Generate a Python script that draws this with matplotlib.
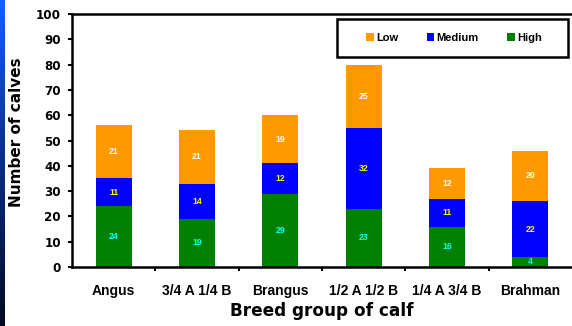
import matplotlib.pyplot as plt
import numpy as np
from matplotlib.colors import LinearSegmentedColormap
from matplotlib.patches import Rectangle

# calves per breed group, stacked High / Medium / Low
breeds = ["Angus", "3/4 A 1/4 B", "Brangus", "1/2 A 1/2 B", "1/4 A 3/4 B", "Brahman"]
high = [24, 19, 29, 23, 16, 4]
medium = [11, 14, 12, 32, 11, 22]
low = [21, 21, 19, 25, 12, 20]

plt.rcParams['font.family'] = ['Liberation Sans', 'DejaVu Sans']
plt.rcParams['font.weight'] = 'bold'
wide = ['DejaVu Sans']

W, H = 572, 326
fig = plt.figure(figsize=(W / 100, H / 100), dpi=100)

# thin blue strip down the left edge
strip = fig.add_axes([0, 0, 5 / W, 1])
grad = np.linspace(0, 1, 256).reshape(-1, 1)
cmap = LinearSegmentedColormap.from_list("strip", ["#1262f5", "#0a2c85", "#020a22"])
strip.imshow(grad, aspect='auto', cmap=cmap)
strip.axis('off')

ax = fig.add_axes([72 / W, 59 / H, 500 / W, 253 / H])
x = np.arange(len(breeds))
w = 0.43
hi = np.array(high)
me = np.array(medium)
lo = np.array(low)
b_hi = ax.bar(x, hi, w, color='#008000', label='High', zorder=2)
b_me = ax.bar(x, me, w, bottom=hi, color='#0000ff', label='Medium', zorder=2)
b_lo = ax.bar(x, lo, w, bottom=hi + me, color='#ff9900', label='Low', zorder=2)

for i in range(len(breeds)):
    ax.text(x[i], hi[i] / 2, str(high[i]), ha='center', va='center', fontsize=6.3, color='#00ffff')
    ax.text(x[i], hi[i] + me[i] / 2, str(medium[i]), ha='center', va='center', fontsize=6.3, color='#ffff00')
    ax.text(x[i], hi[i] + me[i] + lo[i] / 2, str(low[i]), ha='center', va='center', fontsize=6.3, color='white')

ax.set_xlim(-0.5, 5.5)
ax.set_ylim(0, 100)
ax.set_yticks(range(0, 101, 10))
ax.set_yticklabels([str(v) for v in range(0, 101, 10)], fontsize=8.6, fontweight='bold', family=wide)
ax.set_xticks(x)
ax.set_xticklabels(breeds, fontsize=10, fontweight='bold')
ax.set_xticks(np.arange(0.5, 5, 1), minor=True)
ax.tick_params(axis='x', which='major', length=0, pad=12)
ax.tick_params(axis='x', which='minor', length=3, width=1.5, direction='out')
ax.tick_params(axis='y', length=3, width=1.5, direction='out', pad=5)

for s in ['left', 'bottom', 'top']:
    ax.spines[s].set_linewidth(1.8)
ax.spines['right'].set_visible(False)

ax.set_ylabel("Number of calves", fontsize=11, fontweight='bold', family=wide)
ax.yaxis.set_label_coords(-0.096, 0.534)
ax.set_xlabel("Breed group of calf", fontsize=12.2, fontweight='bold', family=wide, labelpad=3)

# legend frame drawn as a separate box
fig.patches.append(Rectangle((337 / W, 1 - 57 / H), 231 / W, 38 / H, transform=fig.transFigure,
                             facecolor='white', edgecolor='black', linewidth=1.8, zorder=5))
leg = fig.legend([b_lo, b_me, b_hi], ['Low', 'Medium', 'High'], ncol=3, loc='center',
                 bbox_to_anchor=(454 / W, 1 - 38 / H), fontsize=8, frameon=False,
                 handlelength=0.65, handleheight=0.65, handletextpad=0.2, columnspacing=2.6,
                 borderpad=0)
leg.set_zorder(6)
for t in leg.get_texts():
    t.set_fontweight('bold')

fig.savefig("out.png", dpi=100)
